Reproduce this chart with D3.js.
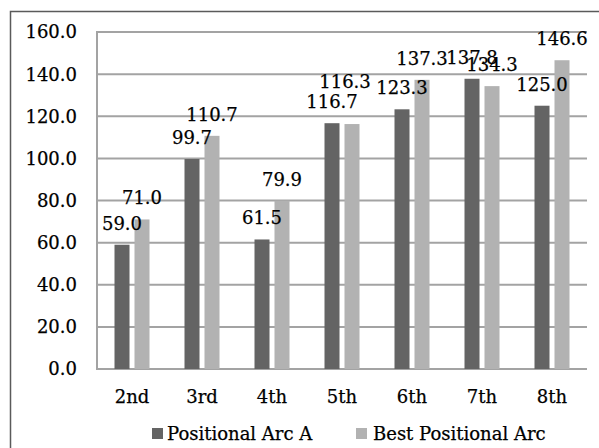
<!DOCTYPE html>
<html><head><meta charset="utf-8">
<script src="https://cdn.jsdelivr.net/npm/d3@7"></script>
<style>
html,body{margin:0;padding:0;background:#fff;}
svg text{font-family:"DejaVu Serif",serif;font-size:18px;fill:#000;stroke:#000;stroke-width:0.25px;}
</style></head>
<body><svg id="c" width="599" height="448"></svg>
<script>
const categories = ["2nd","3rd","4th","5th","6th","7th","8th"];
const seriesNames = ["Positional Arc A","Best Positional Arc"];
const arcA = [59.0, 99.7, 61.5, 116.7, 123.3, 137.8, 125.0];
const bestArc = [71.0, 110.7, 79.9, 116.3, 137.3, 134.3, 146.6];
const yTicks = [0,20,40,60,80,100,120,140,160];
const colors = ["#646464","#b2b2b2"];

const seriesValues = [arcA, bestArc];
const svg = d3.select("#c");

// outer frame (top and left edges visible in the crop)
svg.append("path").attr("d","M10.5,448 V11.5 H599").attr("fill","none").attr("stroke","#5a5a5a").attr("stroke-width",1.5);

const x0 = d3.scaleBand().domain(categories).range([97,587]);
const x1 = d3.scaleBand().domain(seriesNames).range([17.5,52.5]).paddingInner(0.25);
const y = d3.scaleLinear().domain([0,160]).range([369,32]);

// gridlines
svg.append("g").selectAll("line").data(yTicks).join("line")
  .attr("x1",97).attr("x2",587).attr("y1",d=>y(d)).attr("y2",d=>y(d))
  .attr("stroke","#a3a3a3").attr("stroke-width",2);
// y axis line
svg.append("line").attr("x1",97).attr("x2",97).attr("y1",y(160)-1).attr("y2",y(0)+1)
  .attr("stroke","#a3a3a3").attr("stroke-width",2);

// y tick labels
svg.append("g").selectAll("text").data(yTicks).join("text")
  .attr("x",77).attr("y",d=>y(d)).attr("dy","0.36em").attr("text-anchor","end")
  .text(d=>d.toFixed(1));

// x labels
svg.append("g").selectAll("text").data(categories).join("text")
  .attr("x",d=>x0(d)+x0.bandwidth()/2).attr("y",403).attr("text-anchor","middle")
  .text(d=>d);

// bars
seriesNames.forEach((s,si)=>{
  svg.append("g").selectAll("rect").data(categories).join("rect")
    .attr("x",(c)=>x0(c)+x1(s)).attr("width",x1.bandwidth())
    .attr("y",(c,i)=>y(seriesValues[si][i])).attr("height",(c,i)=>y(0)-y(seriesValues[si][i]))
    .attr("fill",colors[si]);
});

// labels with simple collision handling
const placed = [];
seriesNames.forEach((s,si)=>{
  categories.forEach((c,i)=>{
    const v = seriesValues[si][i];
    let cx = x0(c)+x1(s)+x1.bandwidth()/2;
    let by = y(v)-15;
    const t = svg.append("text").attr("text-anchor","middle").text(v.toFixed(1));
    t.attr("x",cx).attr("y",by);
    const w = t.node().getComputedTextLength();
    for (const p of placed) {
      const ov = Math.min(cx+w/2,p.cx+p.w/2)-Math.max(cx-w/2,p.cx-p.w/2);
      if (ov>5 && Math.abs(by-p.by)<6) { by -= 21; cx -= 7; }
    }
    t.attr("x",cx).attr("y",by);
    placed.push({cx,by,w});
  });
});

// legend
const leg = [{x:152,tx:167},{x:356,tx:373}];
seriesNames.forEach((s,si)=>{
  svg.append("rect").attr("x",leg[si].x).attr("y",428).attr("width",11).attr("height",11).attr("fill",colors[si]);
  svg.append("text").attr("x",leg[si].tx).attr("y",440).text(s);
});
</script></body></html>
